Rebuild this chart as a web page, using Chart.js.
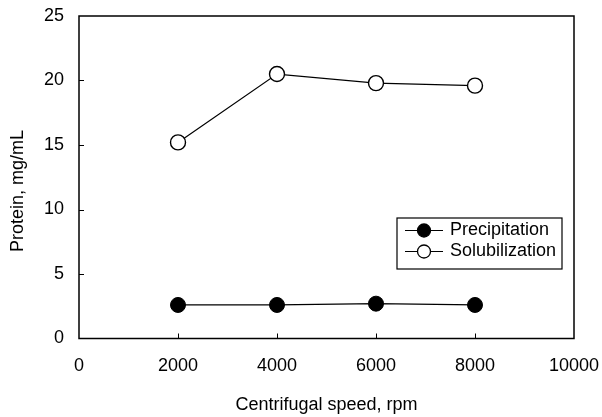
<!DOCTYPE html>
<html>
<head>
<meta charset="utf-8">
<script src="https://cdn.jsdelivr.net/npm/chart.js@4"></script>
<style>
  html, body { margin: 0; padding: 0; background: #fff; }
  #wrap { width: 602px; height: 417px; }
</style>
</head>
<body>
<div id="wrap"><canvas id="grafico" width="602" height="417"></canvas></div>
<script>
// dados
const velocidades = [2000, 4000, 6000, 8000];
const precipitacao = [2.6, 2.6, 2.7, 2.6];
const solubilizacao = [15.2, 20.5, 19.8, 19.6];
const nomesSeries = ['Precipitation', 'Solubilization'];
const ticksX = [0, 2000, 4000, 6000, 8000, 10000];
const ticksY = [0, 5, 10, 15, 20, 25];
const tituloX = 'Centrifugal speed, rpm';
const tituloY = 'Protein, mg/mL';

const familia = 'Liberation Sans, Arial, sans-serif';
const fonte = { family: familia, size: 18 };

function pontos(valores) {
    return velocidades.map((v, i) => ({ x: v, y: valores[i] }));
}

// moldura, ticks internos, título do eixo Y e legenda
const moldura = {
    id: 'moldura',
    afterDraw(chart) {
        const ctx = chart.ctx;
        const a = chart.chartArea;
        ctx.save();
        ctx.strokeStyle = '#000';
        ctx.lineWidth = 1.5;
        ctx.strokeRect(a.left, a.top, a.right - a.left, a.bottom - a.top);

        ctx.lineWidth = 1;
        const sx = chart.scales.x, sy = chart.scales.y;
        ticksX.slice(1, -1).forEach(t => {
            const px = Math.round(sx.getPixelForValue(t)) + 0.5;
            ctx.beginPath();
            ctx.moveTo(px, a.bottom);
            ctx.lineTo(px, a.bottom - 5);
            ctx.stroke();
        });
        ticksY.slice(1, -1).forEach(t => {
            const py = Math.round(sy.getPixelForValue(t)) + 0.5;
            ctx.beginPath();
            ctx.moveTo(a.left, py);
            ctx.lineTo(a.left + 5, py);
            ctx.stroke();
        });

        // título do eixo Y
        ctx.fillStyle = '#000';
        ctx.font = '18px ' + familia;
        ctx.textAlign = 'center';
        ctx.textBaseline = 'middle';
        ctx.translate(18, 191);
        ctx.rotate(-Math.PI / 2);
        ctx.fillText(tituloY, 0, 0);
        ctx.setTransform(1, 0, 0, 1, 0, 0);

        // legenda
        const lx = 397, ly = 218, lw = 165, lh = 51;
        ctx.fillStyle = '#fff';
        ctx.fillRect(lx, ly, lw, lh);
        ctx.lineWidth = 1.2;
        ctx.strokeRect(lx, ly, lw, lh);
        chart.data.datasets.forEach((ds, i) => {
            const y = ly + 12.5 + i * 21;
            ctx.strokeStyle = '#000';
            ctx.lineWidth = 1.2;
            ctx.beginPath();
            ctx.moveTo(405, y);
            ctx.lineTo(443, y);
            ctx.stroke();
            ctx.beginPath();
            ctx.arc(424, y, 6.5, 0, Math.PI * 2);
            ctx.fillStyle = ds.pointBackgroundColor;
            ctx.fill();
            ctx.lineWidth = 1.3;
            ctx.stroke();
            ctx.fillStyle = '#000';
            ctx.font = '18px ' + familia;
            ctx.textAlign = 'left';
            ctx.textBaseline = 'middle';
            ctx.fillText(ds.label, 450, y);
        });
        ctx.restore();
    }
};

new Chart(document.getElementById('grafico'), {
    type: 'line',
    data: {
        datasets: [
            {
                label: nomesSeries[0],
                data: pontos(precipitacao),
                borderColor: '#000',
                borderWidth: 1.2,
                pointBackgroundColor: '#000',
                pointBorderColor: '#000',
                pointRadius: 7.5,
                pointBorderWidth: 1,
                tension: 0
            },
            {
                label: nomesSeries[1],
                data: pontos(solubilizacao),
                borderColor: '#000',
                borderWidth: 1.2,
                pointBackgroundColor: '#fff',
                pointBorderColor: '#000',
                pointRadius: 7.5,
                pointBorderWidth: 1.4,
                tension: 0
            }
        ]
    },
    options: {
        responsive: false,
        animation: false,
        layout: { padding: { left: 0, right: 28, top: 16, bottom: 0 } },
        plugins: { legend: { display: false }, tooltip: { enabled: false } },
        scales: {
            x: {
                type: 'linear',
                min: 0,
                max: 10000,
                afterBuildTicks: s => { s.ticks = ticksX.map(v => ({ value: v })); },
                afterFit: s => { s.height = 78.5; s.paddingLeft = 0; s.paddingRight = 0; },
                grid: { display: false, drawTicks: false },
                border: { display: false },
                ticks: { color: '#000', font: fonte, padding: 17, maxRotation: 0, callback: v => String(v) },
                title: {
                    display: true,
                    text: tituloX,
                    color: '#000',
                    font: fonte,
                    padding: { top: 0, bottom: 1 }
                }
            },
            y: {
                min: 0,
                max: 25,
                afterBuildTicks: s => { s.ticks = ticksY.map(v => ({ value: v })); },
                afterFit: s => { s.width = 79; s.paddingTop = 0; s.paddingBottom = 0; },
                grid: { display: false, drawTicks: false },
                border: { display: false },
                ticks: { color: '#000', font: fonte, padding: 15, callback: v => String(v) }
            }
        }
    },
    plugins: [moldura]
});
</script>
</body>
</html>
